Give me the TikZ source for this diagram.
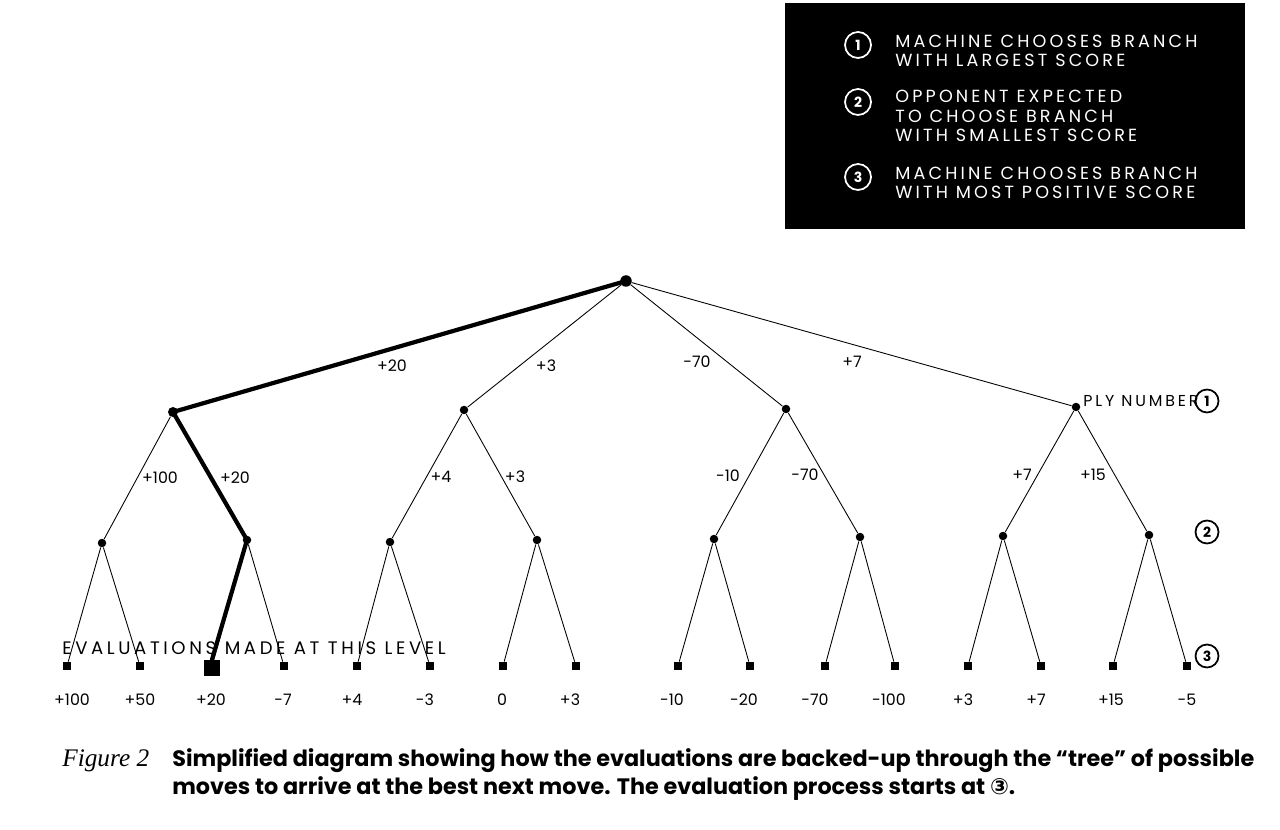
\documentclass[tikz,border=0pt]{standalone}
\usepackage{fontspec}
\setmainfont{Poppins}
\newfontfamily\spacedfont[LetterSpace=18]{Poppins}
\newfontfamily\evalfont[LetterSpace=20]{Poppins}
\newfontfamily\figfont{Liberation Serif}
\newfontfamily\symfont{DejaVu Sans}
\usetikzlibrary{positioning}

\begin{document}
\begin{tikzpicture}[x=0.02cm, y=-0.02cm,
  dot/.style={circle, fill, inner sep=0pt, minimum size=1.7mm},
  leaf/.style={rectangle, fill, inner sep=0pt, minimum size=1.6mm},
  num/.style={circle, draw, line width=1pt, inner sep=0pt, minimum size=4.6mm, font=\bfseries\footnotesize},
  key/.style={num, draw=white, text=white, minimum size=5.2mm},
  keytext/.style={anchor=west, text=white, align=left, font=\spacedfont\fontsize{10}{11}\selectfont, inner sep=0pt},
  score/.style={font=\small, inner sep=1pt},
  branch/.style={line width=0.5pt},
  best/.style={line width=2.4pt, line cap=round}]
\useasboundingbox (0,0) rectangle (1280,830);
% legend box
\fill (785,3) rectangle (1245,229);
\node[key] (k1) at (858,45) {1};
\node[key] (k2) at (858,102) {2};
\node[key] (k3) at (858,177) {3};
\node[keytext] (t1) at (895,51) {MACHINE CHOOSES BRANCH\\WITH LARGEST SCORE};
\node[keytext] (t2) at (895,116) {OPPONENT EXPECTED\\TO CHOOSE BRANCH\\WITH SMALLEST SCORE};
\node[keytext] (t3) at (895,183) {MACHINE CHOOSES BRANCH\\WITH MOST POSITIVE SCORE};
% tree
\node[dot, minimum size=2.3mm] (r) at (626,281) {};
\node[dot, minimum size=2mm] (a1) at (173,412) {};
\node[dot] (a2) at (464,410) {};
\node[dot] (a3) at (786,409) {};
\node[dot] (a4) at (1076,407) {};
\foreach \x/\y [count=\i] in {102/543,247/540,390/542,537/540,714/539,860/537,1003/536,1149/535}
  \node[dot] (b\i) at (\x,\y) {};
\foreach \x [count=\i] in {67,140,212,284,357,430,503,576,678,750,825,895,968,1041,1113,1187}
  \node[leaf] (c\i) at (\x,666) {};
\node[leaf, minimum size=3.2mm] (big) at (212,668) {};
\foreach \i in {1,...,4}
  \draw[branch] (r) -- (a\i);
\foreach \i in {1,...,4} {
  \pgfmathtruncatemacro\j{2*\i-1}
  \pgfmathtruncatemacro\k{2*\i}
  \draw[branch] (a\i) -- (b\j);
  \draw[branch] (a\i) -- (b\k);
}
\foreach \i in {1,...,8} {
  \pgfmathtruncatemacro\j{2*\i-1}
  \pgfmathtruncatemacro\k{2*\i}
  \draw[branch] (b\i) -- (c\j);
  \draw[branch] (b\i) -- (c\k);
}
\draw[best] (r.center) -- (a1.center) -- (b2.center) -- (big.north);
% backed-up scores
\node[score] (s1) at (392,366) {+20};
\node[score] (s2) at (546,366) {+3};
\node[score] (s3) at (697,362) {-70};
\node[score] (s4) at (852,362) {+7};
\foreach \x/\y/\v [count=\i] in {160/478/+100,235/478/+20,441/477/+4,515/477/+3,728/476/-10,805/475/-70,1022/475/+7,1093/475/+15}
  \node[score] (m\i) at (\x,\y) {\v};
\foreach \x/\v [count=\i] in {72/+100,140/+50,211/+20,283/-7,352/+4,425/-3,502/0,570/+3,672/-10,744/-20,815/-70,889/-100,963/+3,1036/+7,1111/+15,1187/-5}
  \node[score] (v\i) at (\x,700) {\v};
% ply labels
\node[anchor=west, font=\spacedfont\small, inner sep=0pt] (ply) at (1083,401) {PLY NUMBER};
\node[num] (p1) at (1207,401) {1};
\node[num] (p2) at (1207,532) {2};
\node[num] (p3) at (1207,656) {3};
\node[anchor=west, font=\evalfont\fontsize{10.3}{12}\selectfont, inner sep=0pt] (eval) at (62,648) {EVALUATIONS MADE AT THIS LEVEL};
% caption
\node[anchor=west, font=\figfont\itshape\Large, inner sep=0pt] (fig) at (62,761) {Figure 2};
\node[anchor=west, font=\bfseries\fontsize{12.7}{15}\selectfont, inner sep=0pt] (cap1) at (172,761) {Simplified diagram showing how the evaluations are backed-up through the “tree” of possible};
\node[anchor=west, font=\bfseries\fontsize{12.7}{15}\selectfont, inner sep=0pt] (cap2) at (172,789) {moves to arrive at the best next move. The evaluation process starts at {\symfont ③}.};
\end{tikzpicture}
\end{document}
